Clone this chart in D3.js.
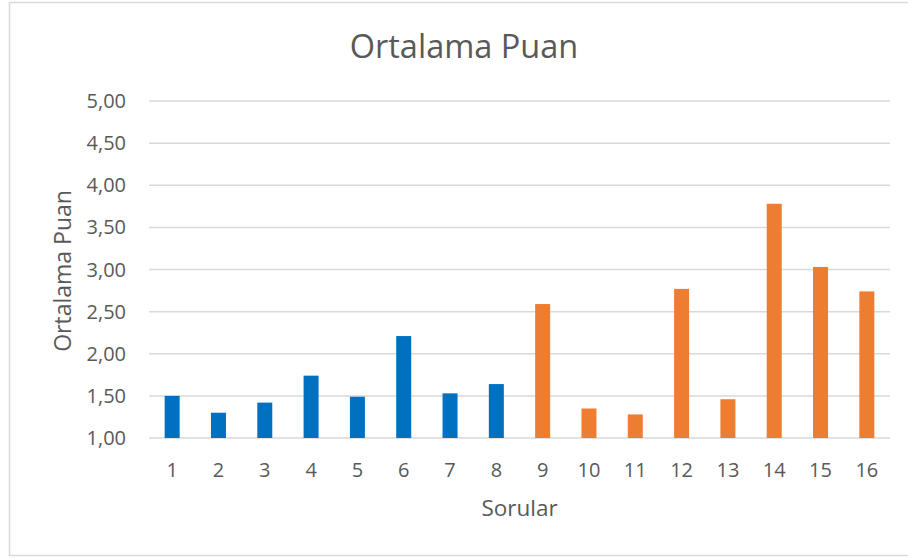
<!DOCTYPE html>
<html>
<head>
<meta charset="utf-8">
<script src="https://cdn.jsdelivr.net/npm/d3@7"></script>
<style>
  body { margin: 0; background: #fff; }
  text { font-family: "Open Sans", sans-serif; fill: #595959; }
</style>
</head>
<body>
<div id="chart"></div>
<script>
// questions and their mean scores
var questions = ['1','2','3','4','5','6','7','8','9','10','11','12','13','14','15','16'];
var means = [1.50, 1.30, 1.42, 1.74, 1.49, 2.21, 1.53, 1.64, 2.59, 1.35, 1.28, 2.77, 1.46, 3.78, 3.03, 2.74];
// first 8 are blue, the rest orange
var groups = ['a','a','a','a','a','a','a','a','b','b','b','b','b','b','b','b'];
var yTicks = [1, 1.5, 2, 2.5, 3, 3.5, 4, 4.5, 5];

var width = 908, height = 559;
var margin = {top: 101, right: 18, bottom: 121, left: 149};

var colors = {a: '#0070C0', b: '#ED7D31'};

var svg = d3.select('#chart').append('svg')
  .attr('width', width)
  .attr('height', height);

// outer border of the chart area
svg.append('rect')
  .attr('x', 9.5).attr('y', 2.5)
  .attr('width', 920).attr('height', 553)
  .style('fill', 'none')
  .style('stroke', '#D9D9D9')
  .style('stroke-width', 1.5);

var x = d3.scaleBand()
  .domain(questions)
  .range([margin.left, width - margin.right]);

var y = d3.scaleLinear()
  .domain([1, 5])
  .range([height - margin.bottom, margin.top]);

var fmt = function(d) { return d3.format('.2f')(d).replace('.', ','); };

// gridlines
svg.append('g')
  .selectAll('line').data(yTicks)
  .enter().append('line')
    .attr('x1', margin.left)
    .attr('x2', width - margin.right)
    .attr('y1', function(d) { return y(d); })
    .attr('y2', function(d) { return y(d); })
    .style('stroke', '#D9D9D9')
    .style('stroke-width', 1.5);

// y tick labels
svg.append('g')
  .selectAll('text').data(yTicks)
  .enter().append('text')
    .attr('x', 126)
    .attr('y', function(d) { return y(d); })
    .attr('dy', '0.35em')
    .attr('text-anchor', 'end')
    .style('font-size', '20px')
    .text(fmt);

// bars
var barW = 15;
svg.append('g')
  .selectAll('rect').data(means)
  .enter().append('rect')
    .attr('x', function(d, i) { return x(questions[i]) + x.bandwidth() / 2 - barW / 2; })
    .attr('width', barW)
    .attr('y', function(d) { return y(d); })
    .attr('height', function(d) { return y(1) - y(d); })
    .style('fill', function(d, i) { return colors[groups[i]]; });

// x tick labels
svg.append('g')
  .selectAll('text').data(questions)
  .enter().append('text')
    .attr('x', function(d) { return x(d) + x.bandwidth() / 2; })
    .attr('y', 477)
    .attr('text-anchor', 'middle')
    .style('font-size', '20px')
    .text(function(d) { return d; });

// title
svg.append('text')
  .attr('x', 464)
  .attr('y', 58)
  .attr('text-anchor', 'middle')
  .style('font-size', '32.5px')
  .text('Ortalama Puan');

// axis titles
svg.append('text')
  .attr('x', (margin.left + width - margin.right) / 2)
  .attr('y', 516)
  .attr('text-anchor', 'middle')
  .style('font-size', '22.5px')
  .text('Sorular');

svg.append('text')
  .attr('transform', 'translate(71,271) rotate(-90)')
  .attr('text-anchor', 'middle')
  .style('font-size', '23px')
  .text('Ortalama Puan');
</script>
</body>
</html>
